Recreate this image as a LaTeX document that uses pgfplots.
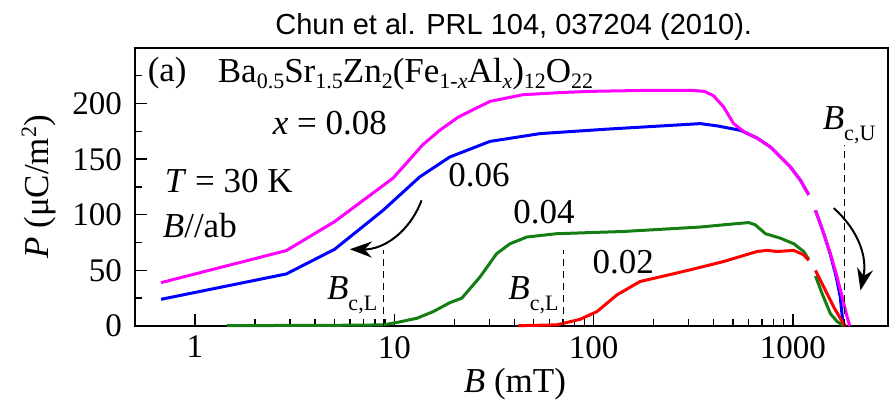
\documentclass[border=0pt]{standalone}
\usepackage{fontspec}
\setmainfont{Liberation Serif}
\newfontfamily\arial{Liberation Sans}
\usepackage{pgfplots}
\pgfplotsset{compat=1.18}
\usetikzlibrary{arrows.meta}

\definecolor{cmag}{RGB}{255,0,255}
\definecolor{cblue}{RGB}{0,0,255}
\definecolor{cgreen}{RGB}{20,125,20}
\definecolor{cred}{RGB}{255,0,0}

\newcommand\sub[1]{\raisebox{-2.6pt}{\fontsize{11}{11}\selectfont #1}}
\newcommand\subb[1]{\raisebox{-5.5pt}{\fontsize{11}{11}\selectfont #1}}
\newcommand\ann{\fontsize{17.5}{19}\selectfont}

\begin{document}
\begin{tikzpicture}
\begin{axis}[
  at={(0,0)}, anchor=south west,
  scale only axis, width=376.5pt, height=139pt,
  xmode=log, xmin=0.5, xmax=3000, ymin=0, ymax=250,
  xtick={1,10,100,1000}, xticklabels={\mbox{1},\mbox{10},\mbox{100},\mbox{1000}},
  ytick={0,50,100,150,200}, yticklabels={\mbox{0},\mbox{50},\mbox{100},\mbox{150},\mbox{200}},
  minor ytick={25,75,125,175,225},
  tick align=inside, tick pos=left,
  major tick length=6pt, minor tick length=3.5pt,
  axis line style={line width=0.7pt}, every tick/.style={black, line width=0.7pt},
  tick label style={font=\fontsize{16.5}{18}\selectfont\rmfamily},
  yticklabel style={xshift=-3pt},
  xticklabel style={yshift=-1.5pt},
  clip=false,
  every axis plot/.append style={line width=1.5pt},
]
% blue x=0.06
\addplot[cblue] coordinates {(0.676,24) (2.87,46.8) (5.02,69) (8.78,104) (13.4,134) (16.9,146) (19,152) (30.2,166) (53.8,173) (116,177) (200,179.5) (343,182) (416,180) (545,176) (661,169) (771,161) (971,143) (1091,131) (1200,118)};
\addplot[cblue] coordinates {(1298,104) (1429,83) (1543,64) (1650,44) (1728,26) (1760,12) (1790,0)};
% magenta x=0.08
\addplot[cmag] coordinates {(0.676,39) (2.87,67.8) (5.02,93.9) (9.86,133) (13.9,163) (16.9,176) (21,188) (30.2,202) (44.2,208) (70,210) (96,211) (200,212) (305,212) (360,211) (400,207) (449,197) (504,182) (566,175) (660,169) (771,161) (971,143) (1091,131) (1200,118)};
\addplot[cmag] coordinates {(1298,104) (1429,83) (1543,65) (1667,44) (1767,26) (1873,8) (1929,0)};
% green x=0.04
\addplot[cgreen] coordinates {(1.45,0.3) (3,0.5) (6,0.7) (8.78,1) (10.2,3) (13,7) (15.7,13) (19,21) (21.8,25) (26.9,44) (32.6,65) (38.1,74) (46.2,80) (65.3,83) (141,85) (343,89) (449,91) (600,93) (647,91) (728,83) (865,79) (1009,74) (1133,67) (1200,60)};
\addplot[cgreen] coordinates {(1298,45) (1402,29) (1543,11) (1667,4) (1800,0)};
% red x=0.02
\addplot[cred] coordinates {(41.9,0.3) (65.3,1) (85.5,6) (104,13) (131,28) (171,40) (252,47) (305,50.5) (449,58) (661,67) (742,68) (833,67) (1009,68) (1133,64) (1200,59)};
\addplot[cred] coordinates {(1298,50) (1429,35) (1603,17) (1767,4) (1836,0)};

% dashed markers
\draw[black, line width=0.5pt, dash pattern=on 3.5pt off 2.5pt] (axis cs:8.86,0) -- (axis cs:8.86,68);
\draw[black, line width=0.5pt, dash pattern=on 3.5pt off 2.5pt] (axis cs:70.3,0) -- (axis cs:70.3,68);
\draw[black, line width=0.5pt, dash pattern=on 3.5pt off 2.5pt] (axis cs:1815,0) -- (axis cs:1815,163);

% arrows
\draw[black, line width=1pt, -{Stealth[length=11pt, width=8pt]}] (axis cs:13.7,113) to[bend left=35] (axis cs:5.98,69);
\draw[black, line width=1pt, -{Stealth[length=11pt, width=8pt]}] (axis cs:1603,106) to[bend left=30] (axis cs:2183,32);

% annotations
\node[anchor=base west, inner sep=0pt] at (axis cs:0.577,219.6) {\ann (a)};
\node[anchor=base west, inner sep=0pt] at (axis cs:1.297,218.7) {\ann Ba\sub{0.5}Sr\sub{1.5}Zn\sub{2}(Fe\sub{1-\textit{x}}Al\sub{\textit{x}})\sub{12}O\sub{22}};
\node[anchor=base west, inner sep=0pt] at (axis cs:2.45,171.9) {\ann \textit{x} = 0.08};
\node[anchor=base west, inner sep=0pt] at (axis cs:0.703,119.7) {\ann \textit{T} = 30 K};
\node[anchor=base west, inner sep=0pt] at (axis cs:0.687,79.2) {\ann \textit{B}//ab};
\node[anchor=base west, inner sep=0pt] at (axis cs:18.6,125.1) {\ann 0.06};
\node[anchor=base west, inner sep=0pt] at (axis cs:39.4,91.8) {\ann 0.04};
\node[anchor=base west, inner sep=0pt] at (axis cs:98.3,46.8) {\ann 0.02};
\node[anchor=base west, inner sep=0pt] at (axis cs:4.58,23.4) {\ann \textit{B}\subb{c,L}};
\node[anchor=base west, inner sep=0pt] at (axis cs:37.2,23.4) {\ann \textit{B}\subb{c,L}};
\node[anchor=base west, inner sep=0pt] at (axis cs:1407,176.4) {\ann \textit{B}\subb{c,U}};

% axis labels and title
\node[anchor=base, inner sep=0pt, rotate=90] at (rel axis cs:-0.1155,0.5) {\ann \textit{P} (μC/m\raisebox{6pt}{\fontsize{11}{11}\selectfont 2})};
\node[anchor=base, inner sep=0pt] at (rel axis cs:0.5046,-0.241) {\ann \textit{B} (mT)};
\node[anchor=base, inner sep=0pt] at (rel axis cs:0.503,1.050) {\fontsize{14.5}{16}\selectfont\arial Chun et al. PRL 104, 037204 (2010).};
\end{axis}
\pgfresetboundingbox
\path (-67.5pt,-43pt) rectangle (380.5pt,163pt);
\end{tikzpicture}
\end{document}
